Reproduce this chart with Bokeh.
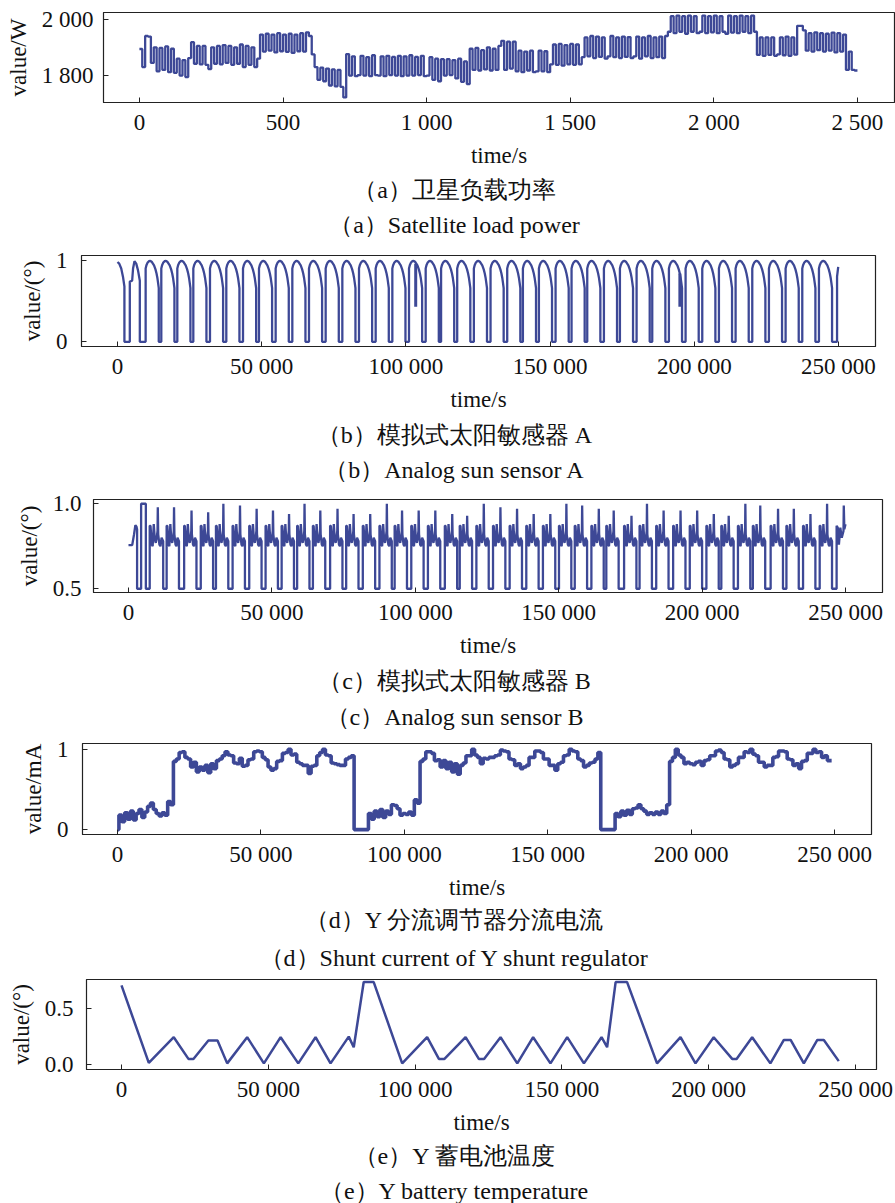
import numpy as np
from bokeh.plotting import figure
from bokeh.layouts import column
from bokeh.models import FixedTicker, Label
from bokeh.embed import file_html
from bokeh.resources import INLINE

LINE = "#3d4896"
SERIF = "Liberation Serif"

# ---------------- (a) satellite load power, W, one value per 10 s ----------------
a_time = np.arange(0, 2500, 10)
a_power = [
    1894, 1830, 1940, 1938, 1845, 1900, 1815, 1898, 1820, 1903,
    1812, 1895, 1810, 1860, 1800, 1855, 1795, 1862, 1918, 1842,
    1905, 1840, 1905, 1838, 1823, 1900, 1842, 1905, 1840, 1908,
    1845, 1905, 1838, 1900, 1842, 1910, 1830, 1905, 1838, 1900,
    1830, 1860, 1945, 1885, 1948, 1888, 1945, 1882, 1950, 1886,
    1945, 1884, 1948, 1880, 1945, 1886, 1950, 1885, 1953, 1940,
    1875, 1830, 1785, 1828, 1780, 1825, 1765, 1822, 1762, 1820,
    1760, 1723, 1876, 1800, 1868, 1798, 1802, 1870, 1800, 1865,
    1798, 1872, 1802, 1800, 1868, 1798, 1870, 1802, 1866, 1800,
    1870, 1798, 1868, 1800, 1872, 1800, 1866, 1802, 1870, 1798,
    1800, 1865, 1785, 1860, 1780, 1858, 1800, 1858, 1802, 1855,
    1790, 1860, 1778, 1850, 1770, 1895, 1820, 1898, 1818, 1890,
    1822, 1900, 1818, 1895, 1820, 1905, 1923, 1820, 1920, 1825,
    1920, 1815, 1888, 1812, 1885, 1818, 1888, 1812, 1815, 1888,
    1815, 1886, 1812, 1840, 1910, 1838, 1912, 1835, 1908, 1840,
    1912, 1838, 1910, 1840, 1865, 1935, 1868, 1940, 1862, 1938,
    1866, 1935, 1860, 1868, 1940, 1865, 1935, 1862, 1938, 1866,
    1936, 1862, 1868, 1938, 1860, 1935, 1868, 1940, 1862, 1935,
    1865, 1938, 1862, 1940, 1955, 2010, 1950, 2012, 1955, 2010,
    1948, 2012, 1955, 2010, 1950, 1955, 2012, 1950, 2010, 1953,
    2012, 1950, 2010, 1955, 1948, 2012, 1952, 2010, 1950, 2012,
    1955, 2010, 1950, 2012, 1955, 1873, 1935, 1870, 1935, 1873,
    1935, 1870, 1875, 1935, 1872, 1938, 1870, 1935, 1874, 1976,
    1976, 1960, 1888, 1950, 1885, 1953, 1890, 1950, 1885, 1948,
    1888, 1952, 1882, 1950, 1885, 1945, 1820, 1885, 1820, 1818,
]

# ---------------- (b) analog sun sensor A ----------------
# opening partial arc and the first (short) sunlit interval
b_head_t = [0, 600, 1300, 1900, 2400, 2400, 4270, 4270, 5080, 5400, 5890, 6500, 7100, 7740, 7740]
b_head_v = [0.98, 0.96, 0.9, 0.8, 0.68, 0.0, 0.0, 0.74, 0.75, 0.9, 0.99, 0.96, 0.88, 0.75, 0.0]
# sunlit intervals (s)
b_rise = [9760, 15190, 20740, 26290, 32070, 37730, 43520, 49060, 54840, 60620,
          66400, 72180, 77960, 83740, 89520, 95300, 101080, 106860, 112200, 117790,
          123570, 129350, 135130, 140570, 146120, 151900, 157440, 162880, 168660, 174210,
          179990, 185420, 191200, 196980, 202760, 208540, 214320, 220100, 225880, 231660,
          237440, 243220]
b_fall = [14310, 19740, 25290, 30840, 36620, 42280, 48070, 53610, 59390, 65170,
          70950, 76730, 82510, 88290, 94070, 99850, 105630, 111410, 116750, 122340,
          128120, 133900, 139680, 145120, 150670, 156450, 161990, 167430, 173210, 178760,
          184540, 189970, 195750, 201530, 207310, 213090, 218870, 224650, 230430, 236210,
          241990, 247770]
# arc over one sunlit interval: fraction of the interval -> output
b_prof_f = [0.0, 0.06, 0.14, 0.25, 0.36, 0.48, 0.64, 0.75, 0.83, 0.9, 0.95, 1.0]
b_prof_v = [0.9, 0.94, 0.97, 0.99, 0.995, 0.98, 0.94, 0.89, 0.84, 0.78, 0.72, 0.66]
b_tail_t = [249500, 249500, 249900]
b_tail_v = [0.0, 0.8, 0.92]
# short drop-outs
b_dip_t = [103400, 195000]
b_dip_top = [0.96, 0.84]
b_dip_low = [0.43, 0.43]

# ---------------- (c) analog sun sensor B ----------------
c_head_t = [0, 1300, 1900, 2400, 2800, 3000, 3000, 4400, 4400, 6050, 6050]
c_head_v = [0.757, 0.757, 0.816, 0.874, 0.865, 0.85, 0.5, 0.5, 1.0, 1.0, 0.5]
c_rise = [7400, 13300, 19400, 25200, 30500, 36300, 42100, 47800, 53400, 58800,
          64300, 70300, 75900, 81700, 87500, 92800, 98600, 104400, 110300, 115500,
          121300, 127100, 132900, 138700, 144500, 150100, 155600, 161400, 166600, 172800,
          178200, 184000, 189900, 195700, 201500, 206700, 212500, 217700, 223900, 229400,
          235200, 241000]
c_fall = [12100, 17600, 23700, 29500, 34800, 40600, 46400, 52100, 57700, 63100,
          68600, 74600, 80200, 86000, 91800, 97100, 102900, 108700, 114600, 119800,
          125600, 131400, 137200, 143000, 148800, 154400, 159900, 165700, 170900, 177100,
          182500, 188300, 194200, 200000, 205800, 211000, 216800, 222000, 228200, 233700,
          239500, 245300]
c_peak = [0.98, 0.98, 0.96, 0.95, 1.0, 0.99, 0.97, 0.96, 0.94, 1.0,
          0.96, 0.97, 0.94, 0.94, 1.0, 0.96, 0.96, 0.96, 0.94, 0.93,
          1.0, 0.98, 0.97, 0.94, 0.94, 1.0, 0.99, 0.97, 0.96, 0.93,
          1.0, 0.96, 0.96, 0.96, 0.94, 0.93, 1.0, 0.99, 0.97, 0.97,
          0.94, 1.0]
# shape over one sunlit interval; None marks the narrow spike of each interval
c_prof_f = [0.0, 0.06, 0.15, 0.22, 0.3, 0.38, 0.45, 0.52, 0.58, 0.6, 0.63, 0.72, 0.8, 0.88, 1.0]
c_prof_v = [0.87, 0.87, 0.76, 0.75, 0.88, 0.79, 0.77, 0.8, 0.84, None, 0.82, 0.76, 0.75, 0.8, 0.78]
c_tail_t = [246900, 246900, 247300, 247700, 248200, 248700, 249300, 249400, 249600, 250000]
c_tail_v = [0.5, 0.87, 0.86, 0.76, 0.86, 0.8, 0.84, 0.99, 0.85, 0.88]

# ---------------- (d) Y shunt regulator current, one value per 1000 s ----------------
d_time = np.arange(0, 250000, 1000)
d_current = [
    0.0, 0.18, 0.1, 0.21, 0.13, 0.23, 0.12, 0.2, 0.25, 0.15,
    0.22, 0.29, 0.33, 0.25, 0.2, 0.17, 0.21, 0.18, 0.35, 0.31,
    0.85, 0.88, 0.96, 0.97, 0.9, 0.88, 0.78, 0.84, 0.72, 0.78,
    0.74, 0.8, 0.71, 0.82, 0.76, 0.86, 0.88, 0.92, 0.97, 0.93,
    0.92, 0.83, 0.82, 0.89, 0.79, 0.8, 0.87, 0.88, 0.97, 0.98,
    0.97, 0.9, 0.87, 0.78, 0.74, 0.76, 0.85, 0.86, 0.95, 0.96,
    1.0, 0.93, 0.94, 0.84, 0.82, 0.8, 0.8, 0.7, 0.79, 0.8,
    0.92, 0.96, 1.0, 0.93, 0.92, 0.83, 0.82, 0.81, 0.8, 0.8,
    0.88, 0.9, 0.92, 0.0, 0.0, 0.0, 0.0, 0.0, 0.2, 0.13,
    0.23, 0.16, 0.25, 0.15, 0.23, 0.19, 0.31, 0.3, 0.26, 0.18,
    0.2, 0.19, 0.22, 0.18, 0.37, 0.33, 0.85, 0.88, 0.97, 0.97,
    0.95, 0.86, 0.87, 0.78, 0.86, 0.76, 0.84, 0.72, 0.82, 0.69,
    0.8, 0.83, 0.92, 0.92, 1.0, 0.93, 0.9, 0.82, 0.89, 0.88,
    0.9, 0.9, 0.92, 0.93, 0.99, 0.98, 0.97, 0.88, 0.87, 0.8,
    0.82, 0.76, 0.78, 0.8, 0.9, 0.9, 0.98, 0.98, 0.96, 0.88,
    0.88, 0.8, 0.8, 0.74, 0.82, 0.84, 0.92, 0.93, 1.0, 0.98,
    0.97, 0.88, 0.86, 0.78, 0.8, 0.83, 0.84, 0.88, 0.96, 0.0,
    0.0, 0.0, 0.0, 0.0, 0.2, 0.16, 0.23, 0.18, 0.24, 0.19,
    0.26, 0.27, 0.31, 0.26, 0.23, 0.19, 0.21, 0.19, 0.22, 0.19,
    0.23, 0.2, 0.31, 0.85, 0.9, 1.0, 0.93, 0.9, 0.82, 0.84,
    0.82, 0.81, 0.84, 0.85, 0.8, 0.86, 0.87, 0.92, 0.92, 0.98,
    0.99, 0.96, 0.88, 0.87, 0.78, 0.8, 0.82, 0.9, 0.9, 0.97,
    0.96, 1.0, 0.94, 0.92, 0.84, 0.84, 0.78, 0.8, 0.8, 0.9,
    0.91, 0.98, 0.98, 0.97, 0.88, 0.87, 0.8, 0.82, 0.76, 0.85,
    0.86, 0.95, 0.95, 1.0, 0.96, 0.97, 0.9, 0.92, 0.86, 0.86,
]

# ---------------- (e) Y battery temperature (turning points) ----------------
e_time = [0, 9300, 17800, 22800, 24500, 29600, 32700, 36000, 42800, 48500,
          54200, 60200, 66100, 71200, 77400, 79100, 82500, 85900, 95600, 104100,
          108100, 110000, 117200, 121700, 123500, 129100, 134800, 140200, 146100, 151800,
          157500, 163500, 165400, 168300, 172200, 182400, 190400, 195500, 201700, 208000,
          209500, 214800, 221000, 225600, 227900, 232400, 237000, 239200, 244300]
e_temp = [0.71, 0.015, 0.245, 0.05, 0.05, 0.215, 0.215, 0.01, 0.245, 0.01,
          0.245, 0.01, 0.245, 0.01, 0.25, 0.155, 0.74, 0.74, 0.01, 0.245,
          0.05, 0.05, 0.245, 0.05, 0.05, 0.245, 0.01, 0.245, 0.01, 0.245,
          0.01, 0.245, 0.155, 0.74, 0.74, 0.01, 0.245, 0.01, 0.245, 0.05,
          0.05, 0.245, 0.01, 0.22, 0.22, 0.01, 0.22, 0.22, 0.03]

T_TICKS = [0, 50000, 100000, 150000, 200000, 250000]
T_LABELS = ["0", "50 000", "100 000", "150 000", "200 000", "250 000"]


def sunlit_path(head_t, head_v, rise, fall, prof_f, prof_v, base, peaks=None, tail_t=(), tail_v=()):
    """Chain the sunlit intervals into one trace, resting at `base` in between."""
    xs, ys = list(head_t), list(head_v)
    for i, (r, f) in enumerate(zip(rise, fall)):
        xs.append(r)
        ys.append(base)
        for k, v in zip(prof_f, prof_v):
            xs.append(r + k * (f - r))
            ys.append(peaks[i] if v is None else v)
        xs.append(f)
        ys.append(base)
    xs += list(tail_t)
    ys += list(tail_v)
    return xs, ys


def panel(height, left, top, bottom, right, x_range, y_range,
          xticks, xlabels, yticks, ylabels, ylabel, ylab_standoff):
    p = figure(width=895, height=height, x_range=x_range, y_range=y_range,
               output_backend="svg", toolbar_location=None,
               min_border_left=left, min_border_right=895 - right,
               min_border_top=top, min_border_bottom=height - bottom)
    p.frame_align = False
    p.background_fill_color = "white"
    p.border_fill_color = "white"
    p.outline_line_color = "#222222"
    p.outline_line_width = 1.2
    p.grid.visible = False
    p.xaxis.ticker = FixedTicker(ticks=xticks, minor_ticks=[])
    p.yaxis.ticker = FixedTicker(ticks=yticks, minor_ticks=[])
    p.xaxis.major_label_overrides = dict(zip(xticks, xlabels))
    p.yaxis.major_label_overrides = dict(zip(yticks, ylabels))
    p.xaxis.axis_label = "time/s"
    p.yaxis.axis_label = ylabel
    for ax in (p.xaxis[0], p.yaxis[0]):
        ax.major_tick_in = 5
        ax.major_tick_out = 0
        ax.minor_tick_in = 0
        ax.minor_tick_out = 0
        ax.axis_line_color = "#222222"
        ax.major_tick_line_color = "#222222"
        ax.major_label_text_font = SERIF
        ax.major_label_text_font_size = "23px"
        ax.major_label_text_color = "#111111"
        ax.axis_label_text_font = SERIF
        ax.axis_label_text_font_style = "normal"
        ax.axis_label_text_font_size = "23px"
        ax.axis_label_text_color = "#111111"
    p.xaxis.major_label_standoff = 7
    p.yaxis.major_label_standoff = ylab_standoff
    p.xaxis.axis_label_standoff = 5
    p.yaxis.axis_label_standoff = 8
    return p


def caption(height, cn, en, cn_y, en_y):
    """Strip holding the two-line (Chinese / English) sub-figure caption."""
    p = figure(width=895, height=height, x_range=(0, 895), y_range=(height, 0),
               x_axis_location=None, y_axis_location=None,
               output_backend="svg", toolbar_location=None, title=None, min_border=0)
    p.frame_align = False
    p.grid.visible = False
    p.outline_line_color = None
    p.background_fill_color = "white"
    p.border_fill_color = "white"
    for text, y in ((cn, cn_y), (en, en_y)):
        p.add_layout(Label(x=454, y=y, text=text, text_align="center", text_baseline="middle",
                           text_font=SERIF, text_font_size="24px", text_color="#111111"))
    return p


# (a)
pa = panel(170, 103, 12, 102, 894, (-125, 2629), (1705, 2023),
           [0, 500, 1000, 1500, 2000, 2500], ["0", "500", "1 000", "1 500", "2 000", "2 500"],
           [1800, 2000], ["1 800", "2 000"], "value/W", 10)
pa.step(list(a_time) + [2500], list(a_power) + [a_power[-1]], mode="after",
        line_color=LINE, line_width=2.3)
ca = caption(73, "（a）卫星负载功率", "（a）Satellite load power", 19, 54)

# (b)
pb = panel(171, 81, 12, 104, 875, (-12480, 262830), (-0.057, 1.06),
           T_TICKS, T_LABELS, [0, 1], ["0", "1"], "value/(°)", 14)
bx, by = sunlit_path(b_head_t, b_head_v, b_rise, b_fall, b_prof_f, b_prof_v, 0.0,
                     tail_t=b_tail_t, tail_v=b_tail_v)
pb.line(bx, by, line_color=LINE, line_width=2.3)
pb.segment(x0=b_dip_t, y0=b_dip_top, x1=b_dip_t, y1=b_dip_low, line_color=LINE, line_width=3)
cb = caption(73, "（b）模拟式太阳敏感器 A", "（b）Analog sun sensor A", 20, 55)

# (c)
pc = panel(173, 93, 12, 106, 882, (-12200, 262900), (0.478, 1.025),
           T_TICKS, T_LABELS, [0.5, 1.0], ["0.5", "1.0"], "value/(°)", 12)
cx, cy = sunlit_path(c_head_t, c_head_v, c_rise, c_fall, c_prof_f, c_prof_v, 0.5,
                     peaks=c_peak, tail_t=c_tail_t, tail_v=c_tail_v)
pc.line(cx, cy, line_color=LINE, line_width=2.3)
cc = caption(72, "（c）模拟式太阳敏感器 B", "（c）Analog sun sensor B", 20, 56)

# (d)
pd_ = panel(170, 82, 11, 104, 871, (-12200, 262900), (-0.061, 1.073),
            T_TICKS, T_LABELS, [0, 1], ["0", "1"], "value/mA", 14)
pd_.step(list(d_time), d_current, mode="center", line_color=LINE, line_width=3.6)
cd = caption(71, "（d）Y 分流调节器分流电流", "（d）Shunt current of Y shunt regulator", 17, 55)

# (e)
pe = panel(167, 86, 6, 96, 876, (-11920, 257150), (-0.045, 0.763),
           T_TICKS, T_LABELS, [0.0, 0.5], ["0.0", "0.5"], "value/(°)", 13)
pe.line(e_time, e_temp, line_color=LINE, line_width=2.5)
ce = caption(63, "（e）Y 蓄电池温度", "（e）Y battery temperature", 15, 50)

layout = column(pa, ca, pb, cb, pc, cc, pd_, cd, pe, ce, spacing=0)
open("out.html", "w").write(file_html(layout, INLINE))
